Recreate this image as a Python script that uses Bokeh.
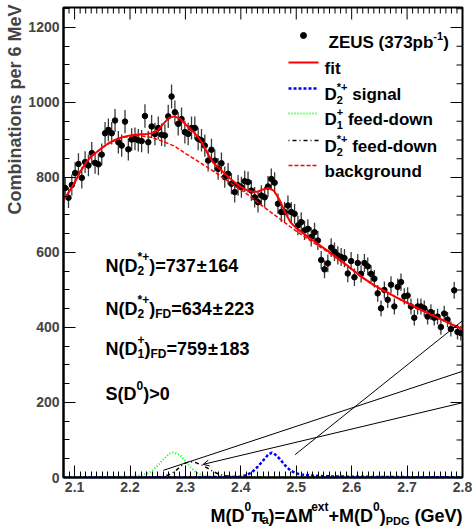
import numpy as np
from bokeh.plotting import figure
from bokeh.layouts import column
from bokeh.models import Range1d, LinearAxis, FixedTicker, Label, Arrow, OpenHead, Title
from bokeh.embed import file_html
from bokeh.resources import INLINE

# ---------------- data ----------------
bin_start = 2.080
bin_width = 0.006
counts = [772, 746, 780, 812, 836, 799, 841, 832, 865, 839,
          835, 861, 918, 927, 918, 952, 894, 885, 949, 875,
          901, 903, 899, 897, 964, 894, 936, 916, 932, 914,
          912, 963, 1016, 974, 943, 956, 921, 916, 932, 932,
          903, 899, 885, 845, 874, 845, 823, 838, 801, 810,
          783, 761, 779, 774, 790, 788, 765, 747, 734, 752,
          747, 776, 796, 786, 730, 708, 708, 725, 708, 703,
          672, 681, 659, 663, 641, 654, 632, 580, 555, 571,
          613, 602, 592, 588, 585, 544, 577, 534, 572, 543,
          572, 563, 543, 530, 491, 451, 500, 474, 514, 456,
          508, 521, 483, 485, 456, 426, 456, 456, 451, 429,
          441, 426, 429, 401, 437, 421, 396, 499, 388, 385]

fit_x = [2.080, 2.09, 2.10, 2.11, 2.12, 2.13, 2.14, 2.15, 2.16, 2.17, 2.18, 2.19,
         2.20, 2.21, 2.22, 2.23, 2.24, 2.25, 2.26, 2.27, 2.28, 2.29, 2.30, 2.31,
         2.32, 2.33, 2.34, 2.35, 2.36, 2.37, 2.38, 2.39, 2.40, 2.41, 2.42, 2.43,
         2.44, 2.45, 2.46, 2.47, 2.48, 2.49, 2.50, 2.52, 2.54, 2.56, 2.58, 2.60,
         2.62, 2.64, 2.66, 2.68, 2.70, 2.72, 2.74, 2.76, 2.78, 2.80]
fit_y = [739, 762, 786, 815, 838, 857, 868, 880, 890, 898, 905, 909,
         912, 914, 915, 916, 918, 925, 943, 959, 963, 957, 942, 928,
         913, 893, 864, 840, 825, 812, 798, 786, 775, 767, 762, 762,
         768, 772, 764, 740, 706, 680, 665, 643, 622, 601, 579, 556,
         533, 513, 497, 481, 466, 451, 437, 423, 409, 396]

bg_x = [2.080, 2.09, 2.10, 2.11, 2.12, 2.13, 2.14, 2.15, 2.16, 2.17, 2.18, 2.19,
        2.20, 2.21, 2.22, 2.23, 2.24, 2.25, 2.26, 2.27, 2.28, 2.29, 2.30, 2.31,
        2.32, 2.33, 2.34, 2.35, 2.36, 2.37, 2.38, 2.39, 2.40, 2.41, 2.42, 2.43,
        2.44, 2.45, 2.46, 2.47, 2.48, 2.49, 2.50, 2.52, 2.54, 2.56, 2.58, 2.60,
        2.62, 2.64, 2.66, 2.68, 2.70, 2.72, 2.74, 2.76, 2.78, 2.80]
bg_y = [739, 762, 786, 815, 838, 856, 867, 879, 889, 897, 903, 907,
        910, 911, 911, 909, 906, 901, 896, 890, 884, 874, 864, 855,
        846, 836, 827, 817, 807, 797, 787, 777, 768, 757, 746, 734,
        723, 712, 701, 690, 679, 668, 657, 637, 618, 598, 577, 555,
        532, 512, 496, 480, 465, 450, 436, 422, 408, 395]

d2sig_x = [2.080, 2.30, 2.40, 2.41, 2.42, 2.43, 2.44, 2.45, 2.456, 2.46, 2.47, 2.48,
           2.49, 2.50, 2.51, 2.52, 2.54, 2.56, 2.60, 2.70, 2.80]
d2sig_y = [0, 0, 2, 6, 14, 28, 45, 62, 66, 64, 50, 32,
           18, 11, 8, 6, 4, 3, 2, 1, 1]

d1fd_x = [2.080, 2.20, 2.21, 2.22, 2.23, 2.24, 2.25, 2.26, 2.27, 2.278, 2.28, 2.29,
          2.30, 2.31, 2.32, 2.33, 2.34, 2.36, 2.40, 2.80]
d1fd_y = [0, 2, 4, 6, 10, 18, 32, 48, 62, 67, 66, 60,
          44, 26, 13, 6, 3, 1, 0, 0]

d2fd_x = [2.080, 2.24, 2.26, 2.27, 2.28, 2.29, 2.30, 2.31, 2.32, 2.33, 2.34, 2.35,
          2.36, 2.37, 2.38, 2.40, 2.45, 2.80]
d2fd_y = [0, 0, 3, 7, 15, 28, 39, 42, 39, 33, 25, 16,
          9, 5, 3, 1, 0, 0]

# stray arrow lines of the original figure (start x, start y, end x, end y)
arrow_x0 = [2.260, 2.332, 2.498]
arrow_y0 = [19, 35, 61]
arrow_x1 = [2.816, 2.816, 2.816]
arrow_y1 = [291, 205, 437]
arrow_head = [False, True, False]

x_major = [2.1, 2.2, 2.3, 2.4, 2.5, 2.6, 2.7, 2.8]
x_minor = [round(2.08 + 0.01 * k, 2) for k in range(73)]
x_minor = [v for v in x_minor if all(abs(v - m) > 1e-6 for m in x_major)]
y_major = [0, 200, 400, 600, 800, 1000, 1200]
y_minor = [v for v in range(0, 1251, 50) if v % 200 != 0]

# ---------------- layout ----------------
W, H = 472, 526
H1 = 500                      # main figure height, x title strip below it
X0, X1 = 2.08, 2.80
Y0, Y1 = 0.0, 1253.3
FL, FR, FT, FB = 63, 462, 7, 477
PXX = (X1 - X0) / (FR - FL)   # data per pixel
PXY = (Y1 - Y0) / (FB - FT)


def dx(px):
    return X0 + (px - FL) * PXX


def dy(py):
    return Y0 + (FB - py) * PXY


FONT = "Liberation Sans"
AW = {'N': 722, '(': 333, 'D': 722, ')': 333, '=': 584, '±': 584, '*': 389, '+': 584,
      'F': 611, 'S': 667, '>': 584, 'Z': 611, 'E': 667, 'U': 722, ' ': 278, 'p': 611,
      'b': 611, '-': 333, 'f': 333, 'i': 278, 't': 333, 's': 556, 'g': 611, 'n': 611,
      'a': 556, 'l': 278, 'e': 556, 'd': 611, 'o': 611, 'w': 778, 'c': 556, 'k': 556,
      'r': 389, 'u': 611, 'M': 833, 'π': 600, 'Δ': 613, 'x': 556, 'P': 667, 'G': 778,
      'V': 667, 'C': 722, 'm': 889, '.': 278}


def tw(s, size):
    return sum(AW.get(c, 556) for c in s) * size / 1000.0


def draw(fig, conv, x, base, parts):
    """parts: ('t', text, size, raise_px) | ('st', sup, sub, size, up, down) | ('sp', px)"""
    def lab(xx, yy, s, size):
        X, Y = conv(xx, yy)
        fig.add_layout(Label(x=X, y=Y, text=s, text_font=FONT, text_font_style="bold",
                             text_font_size=f"{size}px", text_baseline="alphabetic",
                             text_align="left", text_color="black"))
    for part in parts:
        if part[0] == 't':
            _, s, sz, off = part
            lab(x, base - off, s, sz)
            x += tw(s, sz)
        elif part[0] == 'sp':
            x += part[1]
        else:
            _, sup, sub, sz, up, down = part
            if sup:
                lab(x, base - up, sup, sz)
            if sub:
                lab(x, base + down, sub, sz)
            x += max(tw(sup, sz), tw(sub, sz))
    return x


def width_of(parts):
    w = 0
    for part in parts:
        if part[0] == 't':
            w += tw(part[1], part[2])
        elif part[0] == 'sp':
            w += part[1]
        else:
            w += max(tw(part[1], part[3]), tw(part[2], part[3]))
    return w


def main_conv(px, py):
    return dx(px), dy(py)


# ---------------- main figure ----------------
p = figure(width=W, height=H1, x_range=Range1d(X0, X1), y_range=Range1d(Y0, Y1),
           output_backend="svg", toolbar_location=None,
           x_axis_location=None, y_axis_location=None,
           min_border_left=FL, min_border_right=W - FR,
           min_border_top=FT, min_border_bottom=H1 - FB)
p.outline_line_color = "black"
p.outline_line_width = 2
p.background_fill_color = "white"
p.border_fill_color = "white"
p.grid.visible = False


def make_axis(ticks, minor):
    ax = LinearAxis(ticker=FixedTicker(ticks=ticks, minor_ticks=minor))
    ax.axis_line_width = 2
    ax.axis_line_color = "black"
    ax.major_tick_in = 12
    ax.major_tick_out = 0
    ax.minor_tick_in = 6
    ax.minor_tick_out = 0
    ax.major_tick_line_width = 1
    ax.minor_tick_line_width = 1
    ax.major_label_text_font = FONT
    ax.major_label_text_font_style = "bold"
    ax.major_label_text_font_size = "14px"
    ax.major_label_standoff = 4
    return ax


p.add_layout(make_axis(x_major, x_minor), "below")
p.add_layout(make_axis(y_major, y_minor), "left")
p.add_layout(Title(text="Combinations per 6 MeV", align="right", text_font=FONT,
                   text_font_style="bold", text_font_size="18px", standoff=1, offset=-3),
             "left")

# ticks on the top and right frame edges
p.segment(x0=x_major, y0=[Y1] * len(x_major), x1=x_major, y1=[Y1 - 12 * PXY] * len(x_major),
          line_color="black", line_width=1)
p.segment(x0=x_minor, y0=[Y1] * len(x_minor), x1=x_minor, y1=[Y1 - 6 * PXY] * len(x_minor),
          line_color="black", line_width=1)
p.segment(x0=[X1] * len(y_major), y0=y_major, x1=[X1 - 12 * PXX] * len(y_major), y1=y_major,
          line_color="black", line_width=1)
p.segment(x0=[X1] * len(y_minor), y0=y_minor, x1=[X1 - 6 * PXX] * len(y_minor), y1=y_minor,
          line_color="black", line_width=1)

# ---------------- data points ----------------
cnt = np.array(counts, dtype=float)
mass = bin_start + bin_width * (np.arange(len(counts)) + 0.5)
err = np.sqrt(cnt)
p.segment(x0=mass, y0=cnt - err, x1=mass, y1=cnt + err, line_color="#3a3a3a", line_width=1.3)
p.scatter(mass, cnt, size=5.5, color="black")

# ---------------- curves ----------------
p.line(d1fd_x, d1fd_y, line_color="#00ff00", line_width=2, line_dash="1 2")
p.line(d2fd_x, d2fd_y, line_color="black", line_width=1.5, line_dash="1 3 4 3")
p.line(d2sig_x, d2sig_y, line_color="#0000ff", line_width=2.5, line_dash="3 2")
p.line(bg_x, bg_y, line_color="#ff0000", line_width=1.5, line_dash="4 2")
p.line(fit_x, fit_y, line_color="#ff0000", line_width=2)

for i in range(len(arrow_x0)):
    p.add_layout(Arrow(x_start=arrow_x0[i], y_start=arrow_y0[i], x_end=arrow_x1[i], y_end=arrow_y1[i],
                       end=None, start=OpenHead(size=6, line_width=1) if arrow_head[i] else None,
                       line_width=1, line_color="black"))

# ---------------- legend ----------------
LX0, LX1, TX = 288, 318, 324
SP17 = tw(" ", 17)
p.scatter([dx(303)], [dy(35)], size=6, color="black")
draw(p, main_conv, 328, 42, [('t', "ZEUS", 17, 0), ('sp', SP17), ('t', "(373pb", 17, 0),
                             ('t', "-1", 11, 7), ('t', ")", 17, 0)])
rows = [(62, "#ff0000", None, 2), (88, "#0000ff", "3 2", 2.5), (113, "#00ff00", "1 2", 2),
        (140, "black", "1 3 4 3", 1.5), (165, "#ff0000", "4 2", 1.5)]
for yy, col, dash, lw in rows:
    kw = dict(line_color=col, line_width=lw)
    if dash:
        kw["line_dash"] = dash
    p.line([dx(LX0), dx(LX1)], [dy(yy), dy(yy)], **kw)
draw(p, main_conv, TX, 68, [('t', "fit", 17, 0)])
draw(p, main_conv, TX, 94, [('t', "D", 17, 0), ('st', "*+", "2", 11, 8, 5), ('sp', SP17), ('t', "signal", 17, 0)])
draw(p, main_conv, TX, 119, [('t', "D", 17, 0), ('st', "+", "1", 11, 8, 5), ('sp', SP17), ('t', "feed-down", 17, 0)])
draw(p, main_conv, TX, 146, [('t', "D", 17, 0), ('st', "*+", "2", 11, 8, 5), ('sp', SP17), ('t', "feed-down", 17, 0)])
draw(p, main_conv, TX, 171, [('t', "background", 17, 0)])

# ---------------- annotations ----------------
AX = 105
draw(p, main_conv, AX, 265, [('t', "N(D", 18, 0), ('st', "*+", "2", 12, 9, 5), ('t', ")=737", 18, 0),
                             ('sp', 1), ('t', "±", 18, 0), ('sp', 1), ('t', "164", 18, 0)])
draw(p, main_conv, AX, 308, [('t', "N(D", 18, 0), ('st', "*+", "2", 12, 9, 5), ('t', ")", 18, 0),
                             ('t', "FD", 12, -5), ('t', "=634", 18, 0), ('sp', 1), ('t', "±", 18, 0),
                             ('sp', 1), ('t', "223", 18, 0)])
draw(p, main_conv, AX, 348, [('t', "N(D", 18, 0), ('st', "+", "1", 12, 9, 5), ('t', ")", 18, 0),
                             ('t', "FD", 12, -5), ('t', "=759", 18, 0), ('sp', 1), ('t', "±", 18, 0),
                             ('sp', 1), ('t', "183", 18, 0)])
draw(p, main_conv, AX, 393, [('t', "S(D", 18, 0), ('t', "0", 12, 8), ('t', ")>0", 18, 0)])

# ---------------- x axis title strip (frame aligned with the main frame) ----------------
p2 = figure(width=W, height=H - H1, x_range=Range1d(X0, X1), y_range=Range1d(H, H1),
            output_backend="svg", toolbar_location=None,
            x_axis_location=None, y_axis_location=None,
            min_border_left=FL, min_border_right=W - FR,
            min_border_top=0, min_border_bottom=0)
p2.outline_line_color = None
p2.grid.visible = False
p2.background_fill_color = "white"
p2.border_fill_color = "white"

xparts = [('t', "M(D", 18, 0), ('t', "0", 12, 9), ('t', "π", 18, 0), ('t', "a", 12, -4),
          ('t', ")=ΔM", 18, 0), ('t', "ext", 12, 9), ('t', "+M(D", 18, 0), ('t', "0", 12, 9),
          ('t', ")", 18, 0), ('t', "PDG", 11, -5), ('sp', tw(" ", 18)), ('t', "(GeV)", 18, 0)]
draw(p2, lambda a, b: (dx(a), b), FR - width_of(xparts), 515, xparts)

layout = column(p, p2, spacing=0)
open("out.html", "w").write(file_html(layout, INLINE))
